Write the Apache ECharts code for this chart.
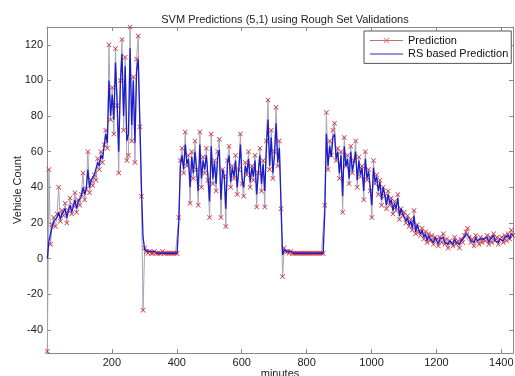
<!DOCTYPE html>
<html>
<head>
<meta charset="utf-8">
<script src="https://cdn.jsdelivr.net/npm/echarts@6/dist/echarts.min.js"></script>
<style>
html,body{margin:0;padding:0;background:#fff;}
#chart{width:515px;height:376px;}
</style>
</head>
<body>
<div id="chart"></div>
<script>
// sampling step (minutes) between consecutive readings
const STEP = 5;
const START_MINUTE = 1;

// "Prediction" (red, x markers), one reading every 5 minutes from minute 1
const prediction = [
  -52, 50, 8, 19, 23, 18, 25, 40, 21, 27,
  24, 31, 20, 27, 34, 25, 30, 37, 26, 33,
  30, 36, 48, 33, 39, 60, 37, 44, 41, 47,
  44, 56, 50, 60, 54, 64, 72, 62, 120, 78,
  96, 70, 118, 86, 48, 100, 123, 72, 113, 55,
  58, 130, 66, 102, 54, 112, 125, 74, 35, -29,
  6, 4, 3, 4, 3, 3, 4, 3, 3, 3,
  3, 4, 3, 3, 3, 3, 3, 3, 3, 3,
  3, 23, 55, 62, 48, 71, 52, 58, 31, 60,
  45, 66, 50, 30, 71, 40, 57, 48, 62, 44,
  23, 70, 42, 55, 38, 60, 67, 23, 50, 46,
  18, 55, 63, 40, 52, 45, 58, 36, 50, 70,
  42, 35, 54, 47, 60, 40, 52, 44, 58, 29,
  48, 62, 38, 55, 29, 66, 89, 50, 72, 45,
  60, 85, 52, 66, 28, -10, 6, 4, 4, 3,
  4, 3, 3, 3, 3, 3, 3, 3, 3, 3,
  3, 3, 3, 3, 3, 3, 3, 3, 3, 3,
  3, 30, 82, 50, 66, 58, 72, 76, 55, 62,
  45, 60, 26, 68, 52, 58, 42, 63, 48, 55,
  66, 40, 57, 46, 52, 33, 60, 44, 50, 38,
  23, 55, 42, 47, 36, 44, 30, 40, 35, 28,
  38, 30, 34, 25, 32, 27, 36, 22, 28, 24,
  26, 20, 24, 18, 22, 16, 27, 14, 19, 15,
  13, 17, 11, 15, 9, 14, 10, 13, 8, 12,
  11, 7, 12, 9, 14, 8, 11, 6, 10, 9,
  7, 12, 8, 10, 6, 11, 9, 13, 15, 17,
  12, 9, 11, 7, 13, 10, 8, 12, 9, 11,
  10, 13, 8, 12, 9, 14, 10, 12, 8, 11,
  12, 9, 13, 10, 14, 11, 16, 13
];

// "RS based Prediction" (blue line), same sampling
const rsPrediction = [
  0, 10, 14, 18, 21, 20, 23, 26, 22, 25,
  24, 28, 23, 27, 30, 26, 29, 33, 28, 32,
  31, 35, 40, 36, 39, 50, 40, 44, 43, 47,
  46, 54, 52, 58, 56, 63, 70, 65, 100, 80,
  92, 78, 110, 88, 60, 98, 115, 80, 108, 66,
  70, 118, 75, 100, 65, 105, 112, 78, 40, 12,
  5, 4, 4, 4, 4, 4, 4, 4, 3, 3,
  3, 3, 3, 3, 3, 3, 3, 3, 3, 3,
  3, 20, 52, 58, 50, 64, 53, 56, 40, 57,
  48, 60, 50, 38, 64, 45, 55, 50, 58, 46,
  32, 63, 45, 54, 42, 57, 61, 33, 50, 47,
  28, 53, 58, 43, 51, 46, 55, 40, 50, 64,
  45, 40, 52, 48, 56, 43, 51, 46, 55, 36,
  48, 58, 42, 53, 38, 62, 78, 52, 68, 48,
  58, 76, 54, 62, 32, 2, 5, 4, 4, 4,
  4, 4, 3, 3, 3, 3, 3, 3, 3, 3,
  3, 3, 3, 3, 3, 3, 3, 3, 3, 3,
  3, 26, 70, 52, 63, 57, 68, 70, 56, 60,
  48, 58, 35, 63, 52, 56, 45, 60, 49, 54,
  60, 44, 55, 47, 51, 38, 56, 45, 49, 40,
  30, 51, 43, 46, 38, 43, 33, 40, 36, 30,
  36, 31, 33, 27, 31, 28, 34, 24, 28, 25,
  25, 21, 23, 19, 21, 17, 24, 15, 19, 16,
  14, 16, 12, 14, 10, 13, 11, 12, 9, 12,
  11, 8, 11, 10, 12, 9, 10, 8, 10, 9,
  8, 11, 9, 10, 8, 10, 10, 12, 14, 15,
  12, 10, 11, 9, 12, 10, 9, 11, 10, 11,
  10, 12, 9, 11, 10, 13, 10, 11, 9, 11,
  11, 10, 12, 11, 13, 11, 14, 13
];

const xTicks = [200, 400, 600, 800, 1000, 1200, 1400];
const yTicks = [-40, -20, 0, 20, 40, 60, 80, 100, 120];
const X_MIN = 0, X_MAX = 1436;
const Y_MIN = -53, Y_MAX = 130;

const titleText = 'SVM Predictions (5,1) using Rough Set Validations';
const xName = 'minutes';
const yName = 'Vehicle Count';
const seriesNames = ['Prediction', 'RS based Prediction'];

const predPairs = prediction.map((v, i) => [START_MINUTE + STEP * i, v]);
const rsPairs = rsPrediction.map((v, i) => [START_MINUTE + STEP * i, v]);

const crossPath = 'path://M0,1L1,0L5,4L9,0L10,1L6,5L10,9L9,10L5,6L1,10L0,9L4,5Z';
// legend icon: thin line with a small x in the middle (33 x 6 box)
const legendCrossIcon = 'path://M0,2.6L33,2.6L33,3.4L0,3.4Z' +
  'M13.5,0.6L14.1,0L16.5,2.4L18.9,0L19.5,0.6L17.1,3L19.5,5.4L18.9,6L16.5,3.6L14.1,6L13.5,5.4L15.9,3Z';
const legendLineIcon = 'path://M0,2.5L33,2.5L33,3.5L0,3.5Z';
const FONT = 'Liberation Sans, Arial, sans-serif';
const axisCol = '#8a8a8a';
const plain = v => String(v);

const chart = echarts.init(document.getElementById('chart'), null, {renderer: 'canvas'});
chart.setOption({
  animation: false,
  backgroundColor: '#ffffff',
  title: {
    text: titleText,
    left: 280, top: 9, textAlign: 'center',
    textStyle: {fontFamily: FONT, fontSize: 11, fontWeight: 'normal', color: '#222'}
  },
  legend: {
    orient: 'vertical',
    left: 364, top: 31,
    padding: [4, 3, 4, 6],
    itemWidth: 33, itemHeight: 6, itemGap: 2.4,
    borderColor: '#555', borderWidth: 1,
    backgroundColor: '#fff',
    textStyle: {fontFamily: FONT, fontSize: 11, color: '#111', lineHeight: 10},
    data: [
      {name: seriesNames[0], icon: legendCrossIcon, itemStyle: {color: '#cf6a72'}},
      {name: seriesNames[1], icon: legendLineIcon, itemStyle: {color: '#2a2ab0'}}
    ]
  },
  grid: {left: 47, right: 2, top: 27, bottom: 23, containLabel: false, outerBoundsMode: 'none'},
  xAxis: [{
    type: 'value', min: X_MIN, max: X_MAX,
    name: xName, nameLocation: 'middle', nameGap: 15, nameMoveOverlap: false,
    nameTextStyle: {fontFamily: FONT, fontSize: 11, color: '#222', verticalAlign: 'top'},
    axisLine: {show: true, onZero: false, lineStyle: {color: axisCol, width: 1}},
    axisTick: {show: true, inside: true, length: 4, customValues: xTicks, lineStyle: {color: axisCol}},
    axisLabel: {show: true, customValues: xTicks, formatter: plain, fontFamily: FONT, fontSize: 11, color: '#222', margin: 4},
    splitLine: {show: false}
  }, {
    type: 'value', position: 'top', min: X_MIN, max: X_MAX,
    axisLine: {show: true, onZero: false, lineStyle: {color: axisCol, width: 1}},
    axisTick: {show: true, inside: true, length: 4, customValues: xTicks, lineStyle: {color: axisCol}},
    axisLabel: {show: false},
    splitLine: {show: false}
  }],
  yAxis: [{
    type: 'value', min: Y_MIN, max: Y_MAX,
    name: yName, nameLocation: 'middle', nameGap: 24, nameRotate: 90, nameMoveOverlap: false,
    nameTextStyle: {fontFamily: FONT, fontSize: 11, color: '#222'},
    axisLine: {show: true, onZero: false, lineStyle: {color: axisCol, width: 1}},
    axisTick: {show: true, inside: true, length: 4, customValues: yTicks, lineStyle: {color: axisCol}},
    axisLabel: {show: true, customValues: yTicks, formatter: plain, fontFamily: FONT, fontSize: 11, color: '#222', margin: 4},
    splitLine: {show: false}
  }, {
    type: 'value', position: 'right', min: Y_MIN, max: Y_MAX,
    axisLine: {show: true, onZero: false, lineStyle: {color: axisCol, width: 1}},
    axisTick: {show: true, inside: true, length: 4, customValues: yTicks, lineStyle: {color: axisCol}},
    axisLabel: {show: false},
    splitLine: {show: false}
  }],
  series: [{
    name: seriesNames[0],
    type: 'line',
    data: predPairs,
    symbol: crossPath, symbolSize: 5, showSymbol: true,
    lineStyle: {color: '#a9a3b8', width: 1},
    itemStyle: {color: '#d02838'},
    z: 2
  }, {
    name: seriesNames[1],
    type: 'line',
    data: rsPairs,
    symbol: 'none',
    lineStyle: {color: '#1c1cc8', width: 1.3},
    itemStyle: {color: '#1c1cc8'},
    z: 3
  }]
});
</script>
</body>
</html>
